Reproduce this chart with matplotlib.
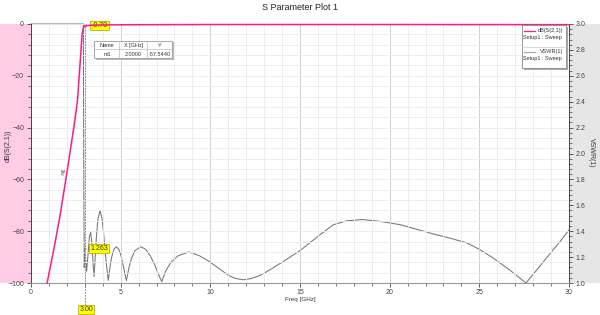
import matplotlib
matplotlib.use("Agg")
import matplotlib.pyplot as plt
import numpy as np
from matplotlib.patches import Rectangle
from matplotlib.lines import Line2D

plt.rcParams['font.family'] = ['Liberation Sans', 'DejaVu Sans']

# ---- data ----
s21_freq = [0.9, 1.3, 1.62, 2.0, 2.3, 2.45, 2.6, 2.68, 2.78, 2.85, 2.92, 3.0, 3.5, 5, 10, 20, 30]
s21_db = [-100, -86, -74, -57.544, -44, -37, -29, -21, -11, -4, -1.5, -0.7, -0.4, -0.3, -0.2, -0.2, -0.25]

vswr_freq = [0.0, 2.5, 2.92, 2.95, 2.97, 2.985, 3.0, 3.05, 3.1, 3.18, 3.26, 3.33, 3.4, 3.46, 3.52,
             3.58, 3.65, 3.73, 3.85, 3.96, 4.05, 4.15, 4.24, 4.31,
             4.4, 4.5, 4.62, 4.76, 4.9, 5.02, 5.15, 5.25, 5.32,
             5.45, 5.6, 5.8, 6.12, 6.4, 6.65, 6.9, 7.1, 7.29,
             7.5, 7.8, 8.2, 8.8, 9.4, 9.9, 10.5, 11.0, 11.4, 11.85, 12.3, 12.8, 13.3,
             14.0, 15.0, 16.0, 16.86, 17.6, 18.5, 19.5, 20.6, 21.5, 22.4, 23.4, 24.3, 25.0, 25.8,
             26.7, 27.6, 28.2, 28.9, 29.5, 30.0]
vswr_val = [60, 30, 3.5, 1.6, 1.12, 1.2, 1.263, 1.18, 1.09, 1.22, 1.36, 1.39, 1.30, 1.15, 1.05,
            1.20, 1.36, 1.49, 1.56, 1.50, 1.38, 1.22, 1.10, 1.02,
            1.12, 1.20, 1.26, 1.28, 1.26, 1.21, 1.13, 1.06, 1.02,
            1.11, 1.19, 1.25, 1.28, 1.26, 1.21, 1.14, 1.07, 1.01,
            1.09, 1.16, 1.21, 1.24, 1.21, 1.17, 1.11, 1.06, 1.035, 1.025, 1.035, 1.06, 1.10,
            1.16, 1.25, 1.36, 1.45, 1.48, 1.49, 1.475, 1.45, 1.415, 1.38, 1.345, 1.31, 1.26, 1.19,
            1.10, 1.0, 1.10, 1.22, 1.32, 1.41]

marker_x = 3.00
marker_s21 = "-0.70"
marker_vswr = "1.263"
m1_x, m1_y = 2.0, -57.5440

title = "S Parameter Plot 1"
xlabel = "Freq [GHz]"
ylabel_left = "dB(S(2,1))"
ylabel_right = "VSWR(1)"

PINK = '#ff1a86'
W, H = 600, 315

fig = plt.figure(figsize=(6, 3.15), dpi=100)
L, R, T, B = 31, 569, 24, 283
ax = fig.add_axes([L / W, 1 - B / H, (R - L) / W, (B - T) / H])


def fx(px):
    return px / W


def fy(py):
    return 1 - py / H


# side panels (behind everything)
fig.patches.append(Rectangle((0, fy(B)), fx(L), fy(T) - fy(B), transform=fig.transFigure,
                             facecolor='#ffcce6', edgecolor='none', zorder=-5))
fig.patches.append(Rectangle((fx(R), fy(B)), 1 - fx(R), fy(T) - fy(B), transform=fig.transFigure,
                             facecolor='#e6e6e6', edgecolor='none', zorder=-5))

ax.set_xlim(0, 30)
ax.set_ylim(-100, 0)
ax.set_xticks(np.arange(0, 31, 5))
ax.set_xticks(np.arange(0, 31, 1), minor=True)
ax.set_yticks(np.arange(-100, 1, 20))
ax.set_yticks(np.arange(-100, 1, 4), minor=True)
ax.grid(which='minor', color='#ebebeb', lw=0.6)
ax.grid(which='major', axis='x', color='#cfcfcf', lw=0.7)
ax.grid(which='major', axis='y', color='#ebebeb', lw=0.6)
ax.set_axisbelow(True)
ax.tick_params(axis='both', which='both', labelsize=5, colors='#444444', direction='out')
ax.tick_params(which='major', length=3, width=0.6)
ax.tick_params(which='minor', length=2, width=0.5)
ax.tick_params(axis='x', pad=1.5)
ax.tick_params(axis='y', pad=2)
for s in ['top', 'right']:
    ax.spines[s].set_visible(False)
ax.spines['left'].set_color('#444444')
ax.spines['bottom'].set_color('#999999')
ax.spines['left'].set_linewidth(0.7)
ax.spines['bottom'].set_linewidth(0.8)

ax2 = ax.twinx()
ax2.set_ylim(1.0, 3.0)
rt = np.round(np.arange(1.0, 3.01, 0.2), 2)
ax2.set_yticks(rt)
ax2.set_yticks(np.round(np.arange(1.0, 3.01, 0.04), 2), minor=True)
ax2.set_yticklabels([f"{v:.1f}" for v in rt])
ax2.tick_params(axis='y', which='both', labelsize=5, colors='#444444', direction='out', pad=2)
ax2.tick_params(which='major', length=3, width=0.6)
ax2.tick_params(which='minor', length=2, width=0.5)
for s in ['top', 'left', 'bottom']:
    ax2.spines[s].set_visible(False)
ax2.spines['right'].set_color('#444444')
ax2.spines['right'].set_linewidth(0.7)

# curves
ax2.plot(vswr_freq, np.minimum(vswr_val, 3.0), color='#767676', lw=0.75, zorder=3, clip_on=False)
ax.plot(s21_freq, s21_db, color=PINK, lw=1.1, zorder=4, clip_on=False)
ax.set_zorder(ax2.get_zorder() + 1)
ax.patch.set_visible(False)

# marker line
ax.axvline(marker_x, color='#777777', lw=0.6, ls=(0, (2, 1.5)), ymin=-0.085, ymax=1.0, clip_on=False, zorder=2)

bbox_y = dict(boxstyle='square,pad=0.15', fc='#ffff00', ec='#b0a000', lw=0.5)
ax.annotate(marker_s21, xy=(marker_x, -0.7), xytext=(91.5, H - 25.3), textcoords='figure pixels',
            fontsize=5, color='#333333', va='center', ha='left', bbox=bbox_y,
            arrowprops=dict(arrowstyle='-', color=PINK, lw=0.7))
ax.annotate(marker_vswr, xy=(marker_x, (1.263 - 1) * 50 - 100), xytext=(90.5, H - 248.7),
            textcoords='figure pixels',
            fontsize=5, color='#333333', va='center', ha='left', bbox=bbox_y,
            arrowprops=dict(arrowstyle='-', color='#b0a000', lw=0.7))
fig.text(fx(86.3), fy(309.5), f"{marker_x:.2f}", fontsize=5, color='#333333', ha='center', va='center',
         bbox=bbox_y)

ax.text(m1_x - 0.15, m1_y + 0.5, "m1", fontsize=3.5, color='#333333', rotation=80, ha='center', va='center')

# marker table
fig.patches.append(Rectangle((fx(96), fy(60)), fx(172.3) - fx(94.3), fy(40.7) - fy(58.3), transform=fig.transFigure,
                             facecolor='#bbbbbb', edgecolor='none', zorder=5))
fig.patches.append(Rectangle((fx(94.3), fy(58.3)), fx(172.3) - fx(94.3), fy(40.7) - fy(58.3),
                             transform=fig.transFigure,
                             facecolor='white', edgecolor='#999999', lw=0.6, zorder=6))
for xx in [119.3, 147.3]:
    fig.add_artist(Line2D([fx(xx), fx(xx)], [fy(40.7), fy(58.3)], color='#bbbbbb', lw=0.5, zorder=7))
fig.add_artist(Line2D([fx(94.3), fx(172.3)], [fy(49.3), fy(49.3)], color='#bbbbbb', lw=0.5, zorder=7))
for cx, h, v in [(107, "Name", "m1"), (133.3, "X [GHz]", f"{m1_x:.4f}"), (160, "Y", f"{m1_y:.4f}")]:
    fig.text(fx(cx), fy(45.2), h, fontsize=4, ha='center', va='center', color='#333333', zorder=8)
    fig.text(fx(cx), fy(54), v, fontsize=4, ha='center', va='center', color='#333333', zorder=8)

# legend
fig.patches.append(Rectangle((fx(523.5), fy(70)), fx(565.7) - fx(521.7), fy(25) - fy(68), transform=fig.transFigure,
                             facecolor='#aaaaaa', edgecolor='none', zorder=5))
fig.patches.append(Rectangle((fx(521.7), fy(68)), fx(565.7) - fx(521.7), fy(25) - fy(68), transform=fig.transFigure,
                             facecolor='white', edgecolor='#888888', lw=0.6, zorder=6))
fig.add_artist(Line2D([fx(521.7), fx(565.7)], [fy(46.7), fy(46.7)], color='#cccccc', lw=0.5, zorder=7))
fig.add_artist(Line2D([fx(523.5), fx(534.5)], [fy(30.7), fy(30.7)], color=PINK, lw=0.9, zorder=7))
fig.add_artist(Line2D([fx(523.5), fx(534.5)], [fy(52), fy(52)], color='#aaaaaa', lw=0.9, zorder=7))
fig.text(fx(563.5), fy(30.7), "dB(S(2,1))", fontsize=4, ha='right', va='center', color='#333333', zorder=8)
fig.text(fx(523), fy(37.5), "Setup1 : Sweep", fontsize=4, ha='left', va='center', color='#333333', zorder=8)
fig.text(fx(563.5), fy(52), "VSWR(1)", fontsize=4, ha='right', va='center', color='#333333', zorder=8)
fig.text(fx(523), fy(58.5), "Setup1 : Sweep", fontsize=4, ha='left', va='center', color='#333333', zorder=8)

# labels
fig.text(0.5, fy(8), title, fontsize=6.5, ha='center', va='center', color='#222222')
fig.text(fx(300), fy(300), xlabel, fontsize=4.5, ha='center', va='center', color='#333333')
fig.text(fx(8), fy(146), ylabel_left, fontsize=5, ha='center', va='center', rotation=90, color='#333333')
fig.text(fx(591), fy(153), ylabel_right, fontsize=5, ha='center', va='center', rotation=270, color='#333333')

fig.savefig("out.png", dpi=100)
